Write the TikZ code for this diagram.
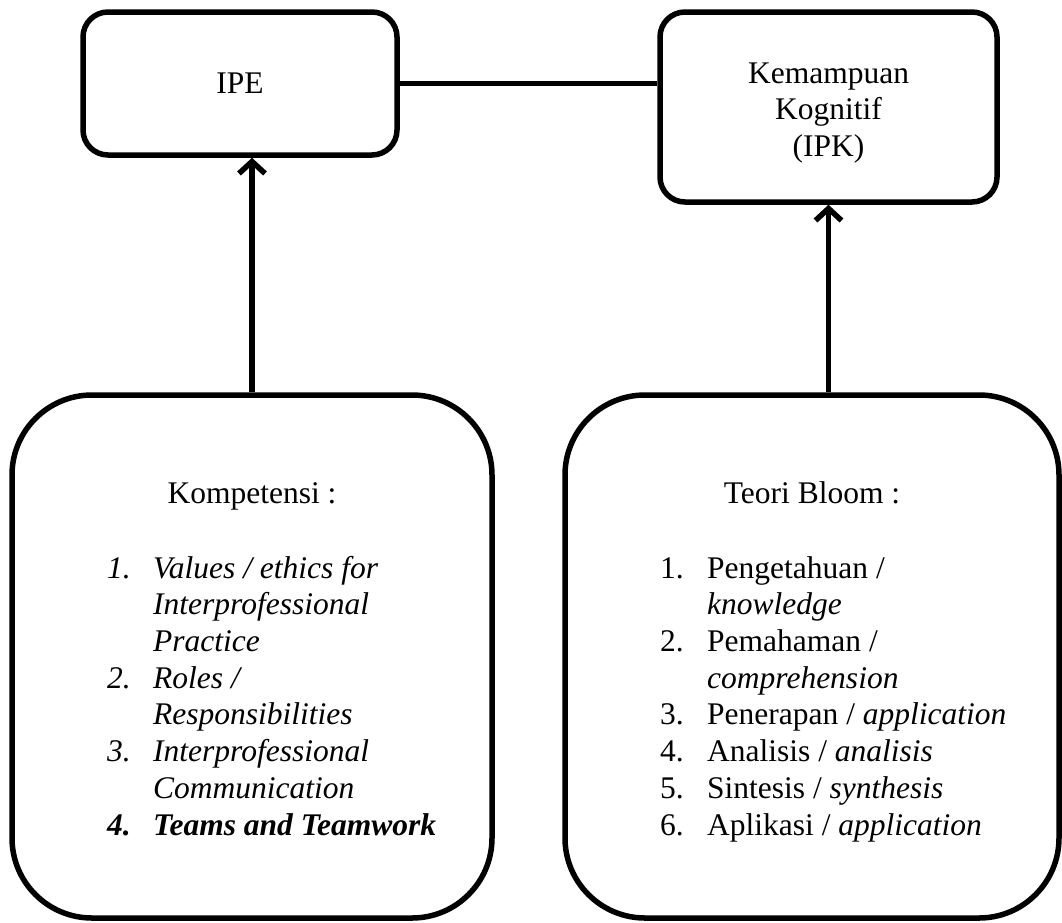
\documentclass[tikz,border=0pt]{standalone}
\usepackage{fontspec}
\setmainfont{Liberation Serif}
\usetikzlibrary{arrows.meta}
\begin{document}
\begin{tikzpicture}[x=1pt,y=-1pt,
  box/.style={draw, line width=5.5pt, rounded corners=25pt, inner sep=0pt,
    font=\fontsize{31.5}{36.7}\selectfont},
  bigbox/.style={draw, line width=5.5pt, rounded corners=80pt, inner sep=0pt},
  conn/.style={line width=5.5pt},
  arr/.style={line width=5.5pt, -{Straight Barb[length=12pt,width=26pt]}},
  txt/.style={anchor=base west, inner sep=0pt, font=\fontsize{31.5}{36.7}\selectfont},
  head/.style={anchor=base, inner sep=0pt, font=\fontsize{31.5}{36.7}\selectfont}]
\useasboundingbox (0,0) rectangle (1062,922);

\node[box, minimum width=314pt, minimum height=143pt] (ipe) at (240,83.5) {IPE};
\node[box, minimum width=337pt, minimum height=190pt] (kog) at (828.5,107) {};
\node[align=center, inner sep=0pt, font=\fontsize{31.5}{36.7}\selectfont] (kogt) at (828.5,113) {Kemampuan\\Kognitif\\(IPK)};
\node[bigbox, minimum width=480pt, minimum height=523pt] (komp) at (252,656.5) {};
\node[bigbox, minimum width=494pt, minimum height=523pt] (bloom) at (812,656.5) {};

\draw[conn] (ipe.east) -- (ipe.east -| kog.west);
\draw[arr] (komp.north) -- (komp.north |- ipe.south);
\draw[arr] (bloom.north -| kog.south) -- (kog.south);

% left box text
\node[head] (kh) at (252,503) {Kompetensi :};
\node[txt] (kn1) at (107,578) {\itshape 1.};
\node[txt] (kt1) at (153,578) {\itshape Values / ethics for};
\node[txt] (kt1b) at (153,614.7) {\itshape Interprofessional};
\node[txt] (kt1c) at (153,651.4) {\itshape Practice};
\node[txt] (kn2) at (107,688.1) {\itshape 2.};
\node[txt] (kt2) at (153,688.1) {\itshape Roles /};
\node[txt] (kt2b) at (153,724.8) {\itshape Responsibilities};
\node[txt] (kn3) at (107,761.5) {\itshape 3.};
\node[txt] (kt3) at (153,761.5) {\itshape Interprofessional};
\node[txt] (kt3b) at (153,798.2) {\itshape Communication};
\node[txt] (kn4) at (107,835) {\bfseries\itshape 4.};
\node[txt] (kt4) at (153,835) {\bfseries\itshape Teams and Teamwork};

% right box text
\node[head] (bh) at (812,503) {Teori Bloom :};
\node[txt] (bn1) at (660,578) {1.};
\node[txt] (bt1) at (707,578) {Pengetahuan /};
\node[txt] (bt1b) at (707,614.7) {\itshape knowledge};
\node[txt] (bn2) at (660,651.4) {2.};
\node[txt] (bt2) at (707,651.4) {Pemahaman /};
\node[txt] (bt2b) at (707,688.1) {\itshape comprehension};
\node[txt] (bn3) at (660,724.8) {3.};
\node[txt] (bt3) at (707,724.8) {Penerapan / \textit{application}};
\node[txt] (bn4) at (660,761.5) {4.};
\node[txt] (bt4) at (707,761.5) {Analisis / \textit{analisis}};
\node[txt] (bn5) at (660,798.2) {5.};
\node[txt] (bt5) at (707,798.2) {Sintesis / \textit{synthesis}};
\node[txt] (bn6) at (660,835) {6.};
\node[txt] (bt6) at (707,835) {Aplikasi / \textit{application}};
\end{tikzpicture}
\end{document}
